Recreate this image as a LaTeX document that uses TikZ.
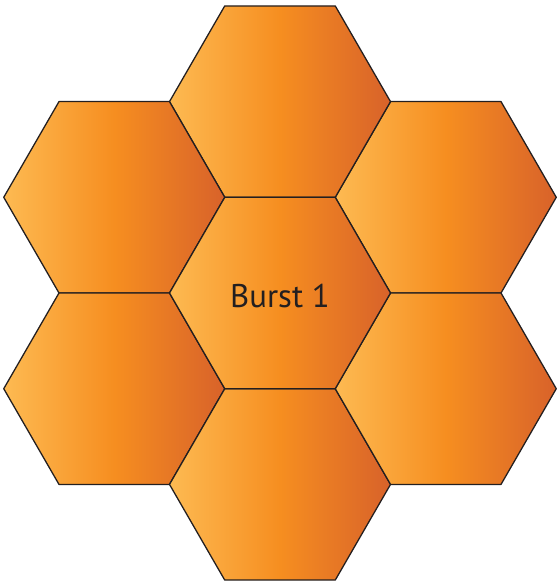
\documentclass[tikz,border=0pt]{standalone}
\usepackage{fontspec}
\setmainfont{PT Sans}
\usetikzlibrary{shapes.geometric}
\definecolor{hexlight}{RGB}{253,186,82}
\definecolor{hexmid}{RGB}{246,142,32}
\definecolor{hexdark}{RGB}{216,98,42}
\definecolor{hexline}{RGB}{35,31,32}
\begin{document}
\begin{tikzpicture}[
      hexcell/.style={regular polygon, regular polygon sides=6, minimum size=6.63cm, inner sep=0pt,
        draw=hexline, line width=1.1pt, line join=round,
        left color=hexlight, right color=hexdark, middle color=hexmid},
      label/.style={text=hexline, font=\fontsize{28}{31}\selectfont}
    ]
      \useasboundingbox (0,0) rectangle (16.68,-17.58);
      \coordinate (mid) at (8.40,-8.79);
      % ring of six around the middle cell
      \foreach \n/\a in {NE/30, N/90, NW/150, SW/210, S/270, SE/330}
        \node[hexcell] (hex\n) at ([shift={(\a:5.742)}]mid) {};
      \node[hexcell] (hexC) at (mid) {};
      \node[label] (burst) at ([yshift=-0.1cm]hexC.center) {Burst 1};
    \end{tikzpicture}
\end{document}
